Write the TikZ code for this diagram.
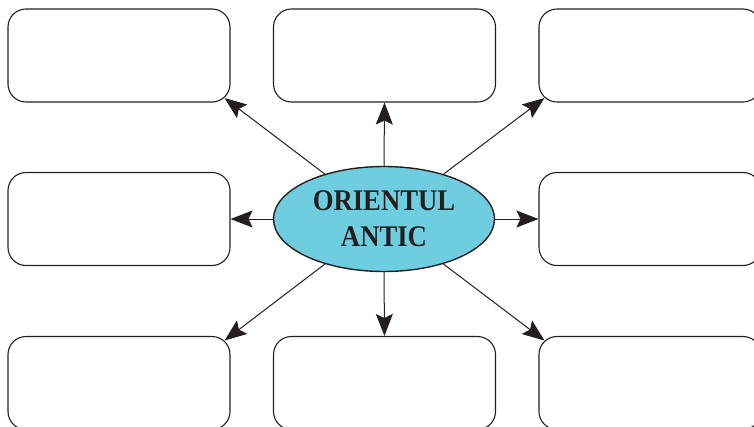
\documentclass[tikz,border=0pt]{standalone}
\usepackage{fontspec}
\newfontfamily\titlefont[FakeStretch=0.89]{Liberation Serif}
\usetikzlibrary{arrows.meta,shapes.geometric}
\definecolor{ink}{HTML}{231F20}
\definecolor{cyanfill}{HTML}{6ECEE0}
\begin{document}
\begin{tikzpicture}[x=1pt,y=-1pt,
  box/.style={draw=ink,line width=1.1pt,rounded corners=18pt,minimum width=222pt,minimum height=93pt,inner sep=0pt},
  arr/.style={draw=ink,line width=1pt,-{Stealth[length=22pt,width=17pt,inset=4pt]}},
  diag/.style={arr,shorten >=-7.5pt},
  hub/.style={ellipse,draw=ink,line width=1.4pt,fill=cyanfill,minimum width=221pt,minimum height=105pt,inner sep=0pt,
    align=center,text=ink,font=\titlefont\bfseries\fontsize{30}{36}\selectfont}]
\clip (0,0) rectangle (754,426);
\node[box] (tl) at (119,55.5) {};
\node[box] (tm) at (384.5,55.5) {};
\node[box] (tr) at (650,55.5) {};
\node[box] (ml) at (119,219) {};
\node[box] (mr) at (650,219) {};
\node[box] (bl) at (119,383) {};
\node[box] (bm) at (384.5,383) {};
\node[box] (br) at (650,383) {};
\node[hub] (e) at (384,219) {ORIENTUL\\ANTIC};
\draw[diag] (e) -- (tl.south east);
\draw[arr] (e.north) -- (tm.south);
\draw[diag] (e) -- (tr.south west);
\draw[arr] (e.west) -- (ml.east);
\draw[arr] (e.east) -- (mr.west);
\draw[diag] (e) -- (bl.north east);
\draw[arr] (e.south) -- (bm.north);
\draw[diag] (e) -- (br.north west);
\end{tikzpicture}
\end{document}
